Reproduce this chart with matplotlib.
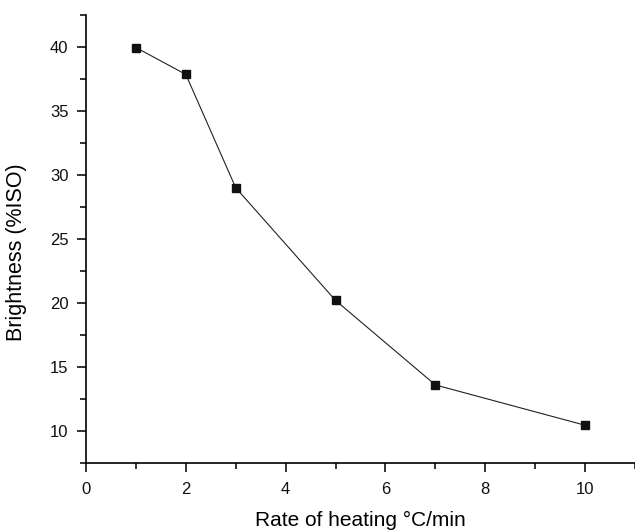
import numpy as np
import matplotlib
matplotlib.use('Agg')
import matplotlib.pyplot as plt
from matplotlib.ticker import MultipleLocator

plt.rcParams['font.family'] = ['Liberation Sans', 'DejaVu Sans']

# heating rate (°C/min) vs brightness (%ISO)
rate = [1, 2, 3, 5, 7, 10]
brightness = [39.95, 37.85, 29.0, 20.2, 13.6, 10.45]

fig = plt.figure(figsize=(6.35, 5.31), dpi=100)
ax = fig.add_axes([0.1354, 0.128, 0.8646, 0.844])

ax.plot(rate, brightness, color='#222222', lw=0.8, marker='s',
        ms=6, mfc='#111111', mec='#111111')

ax.set_xlim(0, 11)
ax.set_ylim(7.5, 42.5)
ax.xaxis.set_major_locator(MultipleLocator(2))
ax.xaxis.set_minor_locator(MultipleLocator(1))
ax.yaxis.set_major_locator(MultipleLocator(5))
ax.yaxis.set_minor_locator(MultipleLocator(2.5))
ax.set_yticks([10, 15, 20, 25, 30, 35, 40])

for s in ['top', 'right']:
   ax.spines[s].set_visible(False)
for s in ['left', 'bottom']:
   ax.spines[s].set_linewidth(1.2)

ax.tick_params(which='major', direction='out', length=6.5, width=1.2,
               labelsize=12, pad=6, colors='#111111')
ax.tick_params(which='minor', direction='out', length=4, width=1.2,
               colors='#111111')
ax.tick_params(axis='x', which='major', pad=7.5)

ax.set_xlabel('Rate of heating \u00b0C/min', fontsize=15, labelpad=9.5)
ax.set_ylabel('Brightness (%ISO)', fontsize=15.5)
ax.yaxis.set_label_coords(-0.108, 0.47)

fig.savefig('out.png', dpi=100)
